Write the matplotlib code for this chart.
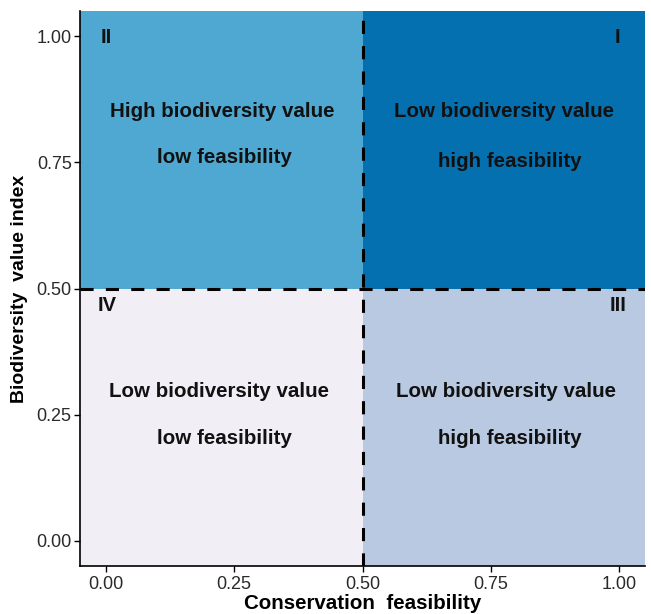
import matplotlib
matplotlib.use("Agg")
import matplotlib.pyplot as plt
from matplotlib.patches import Rectangle

plt.rcParams['font.family'] = ['Liberation Sans', 'DejaVu Sans']

# Quadrants: (x0, x1, y0, y1, colour)
quad_x0 = [-0.05, 0.5, -0.05, 0.5]
quad_x1 = [0.5, 1.05, 0.5, 1.05]
quad_y0 = [0.5, 0.5, -0.05, -0.05]
quad_y1 = [1.05, 1.05, 0.5, 0.5]
quad_colors = ['#4EA8D1', '#0570B0', '#F1EEF6', '#B9C9E1']

roman_labels = ['II', 'I', 'IV', 'III']
roman_x = [-0.01, 1.002, -0.016, 1.014]
roman_y = [0.998, 0.998, 0.467, 0.467]
roman_ha = ['left', 'right', 'left', 'right']

main_labels = ['High biodiversity value', 'Low biodiversity value',
               'Low biodiversity value', 'Low biodiversity value']
main_x = [0.226, 0.776, 0.220, 0.779]
main_y = [0.85, 0.85, 0.295, 0.295]
sub_labels = ['low feasibility', 'high feasibility', 'low feasibility', 'high feasibility']
sub_x = [0.232, 0.787, 0.232, 0.787]
sub_y = [0.76, 0.752, 0.202, 0.202]

ticks = [0.0, 0.25, 0.5, 0.75, 1.0]
tick_labels = ['0.00', '0.25', '0.50', '0.75', '1.00']

fig = plt.figure(figsize=(6.51, 6.14), dpi=100)
ax = fig.add_axes([80/651, 1 - 566/614, 565/651, 555/614])

for x0, x1, y0, y1, c in zip(quad_x0, quad_x1, quad_y0, quad_y1, quad_colors):
    ax.add_patch(Rectangle((x0, y0), x1 - x0, y1 - y0, facecolor=c, edgecolor='none', zorder=0))

dash = (0, (4.3, 4.0))
ax.axvline(0.5, color='black', linestyle=dash, linewidth=2.2, zorder=2)
ax.axhline(0.5, color='black', linestyle=dash, linewidth=2.2, zorder=2)

for lab, x, y, ha in zip(roman_labels, roman_x, roman_y, roman_ha):
    ax.text(x, y, lab, ha=ha, va='center', fontsize=14.5, fontweight='bold', color='#111111')

for lab, x, y in zip(main_labels, main_x, main_y):
    ax.text(x, y, lab, ha='center', va='center', fontsize=14.8, fontweight='bold', color='#111111')
for lab, x, y in zip(sub_labels, sub_x, sub_y):
    ax.text(x, y, lab, ha='center', va='center', fontsize=14.8, fontweight='bold', color='#111111')

ax.set_xlim(-0.05, 1.05)
ax.set_ylim(-0.05, 1.05)
ax.set_xticks(ticks)
ax.set_xticklabels(tick_labels)
ax.set_yticks(ticks)
ax.set_yticklabels(tick_labels)
ax.tick_params(axis='both', labelsize=13, colors='black', labelcolor='#2a2a2a', length=4, width=1)
ax.tick_params(axis='x', pad=3)
ax.tick_params(axis='y', pad=2)
for s in ['top', 'right']:
    ax.spines[s].set_visible(False)
for s in ['left', 'bottom']:
    ax.spines[s].set_linewidth(1.2)

ax.set_xlabel('Conservation  feasibility', fontsize=14.8, fontweight='bold', labelpad=1)
ax.set_ylabel('Biodiversity  value index', fontsize=14, fontweight='bold', labelpad=6)

fig.savefig('out.png', dpi=100)
